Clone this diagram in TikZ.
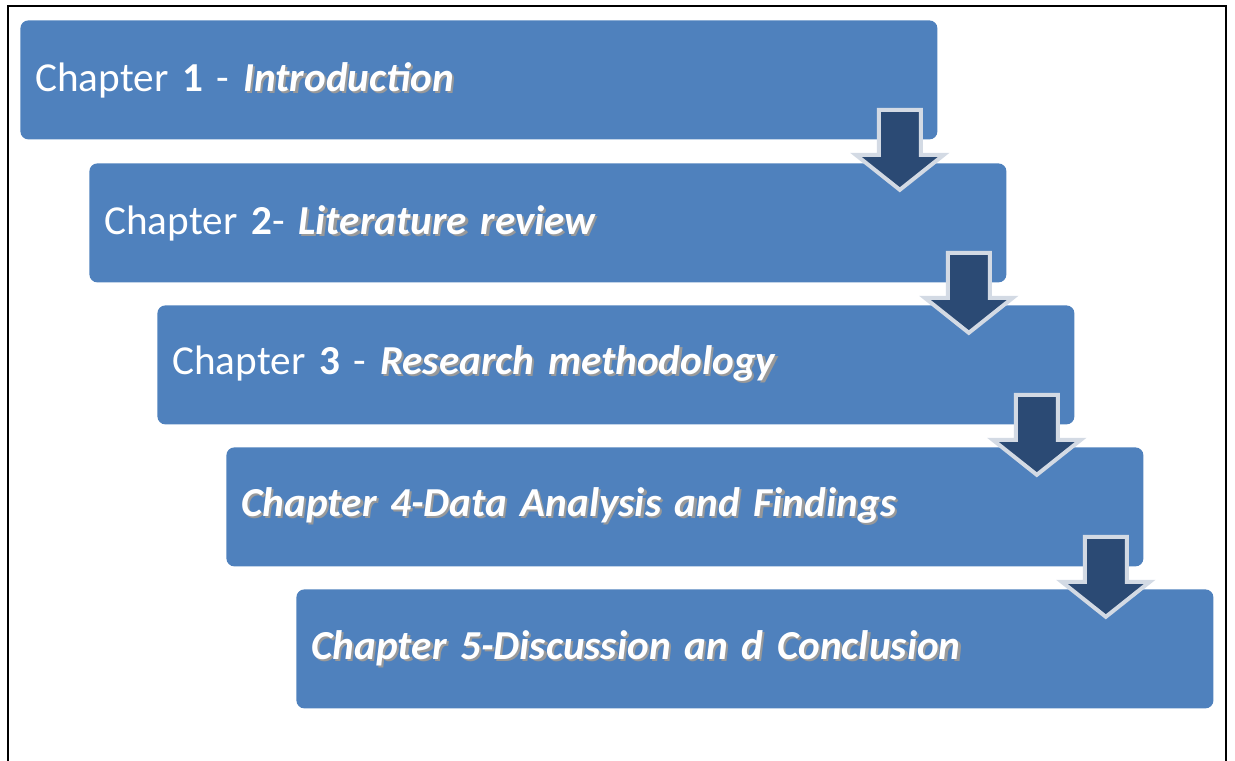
\documentclass[tikz,border=0pt]{standalone}
\usepackage{fontspec}
\setmainfont{Carlito}
\usetikzlibrary{calc}
\definecolor{boxblue}{HTML}{4F81BD}
\definecolor{arrowblue}{HTML}{2B4A74}
\definecolor{arrowrim}{HTML}{D3DAE4}
% white text with a soft drop shadow
\newcommand{\shtext}[1]{{\color{black!40}\rlap{\hspace{1.1pt}\raisebox{-1.1pt}{#1}}}#1}
% block arrow hanging from the lower right of a box
\newcommand{\chaparrow}[1]{%
  \coordinate (#1a) at ($(#1.south east)+(-38,0)$);
  \draw[downarrow] ($(#1a)+(-21,-30)$) -- ($(#1a)+(21,-30)$) -- ($(#1a)+(21,15)$)
    -- ($(#1a)+(44,15)$) -- ($(#1a)+(0,50)$) -- ($(#1a)+(-44,15)$)
    -- ($(#1a)+(-21,15)$) -- cycle;}

\begin{document}
\begin{tikzpicture}[x=0.5pt,y=-0.5pt]
% box and arrow styles
\tikzstyle{chapbox} = [
	draw=none, fill=boxblue, rounded corners=4pt, anchor=north west,
	minimum width=458.5pt, minimum height=59.5pt, text width=443.5pt,
	inner xsep=7.5pt, align=left, text=white,
	font=\fontsize{20.6}{25}\selectfont ];
\tikzstyle{downarrow} = [fill=arrowblue, draw=arrowrim, line width=2pt];
\useasboundingbox (0,0) rectangle (1235,760);
% frame
\draw[line width=1.2pt] (8,790) -- (8,6) -- (1226,6) -- (1226,790);

% chapters
\node[chapbox] (ch1) at (20,20) {Chapter \textbf{1} - \shtext{\textbf{\textit{Introduction}}}};
\node[chapbox] (ch2) at (89,163) {Chapter \textbf{2}- \shtext{\textbf{\textit{Literature review}}}};
\node[chapbox] (ch3) at (157,305) {Chapter \textbf{3} - \shtext{\textbf{\textit{Research methodology}}}};
\node[chapbox] (ch4) at (226,447) {\shtext{\textbf{\textit{Chapter 4-Data Analysis and Findings}}}};
\node[chapbox] (ch5) at (296,589) {\shtext{\textbf{\textit{Chapter 5-Discussion an d Conclusion}}}};

% arrows
\chaparrow{ch1}
\chaparrow{ch2}
\chaparrow{ch3}
\chaparrow{ch4}

\end{tikzpicture}
\end{document}
